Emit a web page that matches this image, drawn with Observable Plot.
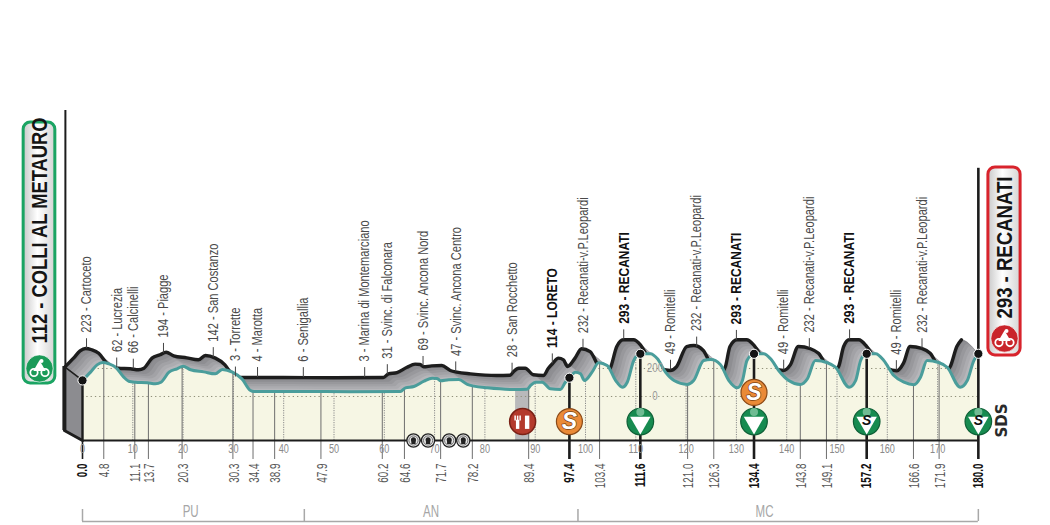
<!DOCTYPE html>
<html><head><meta charset="utf-8">
<style>html,body{margin:0;padding:0;background:#fff}svg{display:block}</style>
<script src="https://cdn.jsdelivr.net/npm/d3@7"></script>
<script src="https://cdn.jsdelivr.net/npm/@observablehq/plot@0.6"></script>
</head><body><div id="chart"></div>
<script>
// Road profile: position along the drawn axis (km) and altitude (m)
const profileKm = [0,1.6,2.9,4.0,5.2,6.6,8.2,9.2,10.5,12.9,14.5,15.6,17.2,18.8,20.0,21.5,24.1,26.4,27.8,29.8,31.7,33.4,34.1,43.3,53.3,63.2,64.2,65.9,67.9,69.5,70.5,71.2,72.8,74.8,76.5,77.8,80.5,85.7,88.4,89.1,90.1,91.4,93.0,95.0,96.0,96.8,98.0,99.0,99.8,101.3,102.6,104.3,106.0,107.3,108.3,109.6,110.9,112.9,114.3,115.9,117.6,120.2,121.5,123.5,124.9,126.8,128.5,130.2,131.2,132.1,133.5,135.4,136.8,138.4,140.4,142.7,144.1,145.7,148.1,149.7,152.4,153.7,154.7,155.8,157.7,159.3,161.3,163.3,165.3,166.6,167.9,170.2,171.9,174.5,175.9,177.2,178.1];
const profileM = [115,174,226,243,234,209,138,109,102,98,91,102,174,198,216,191,176,162,193,174,126,43,36,36,34,36,62,71,109,131,129,112,119,121,86,74,62,50,52,79,102,102,55,50,102,134,174,162,114,174,241,221,114,66,102,257,305,305,269,174,114,86,114,257,264,229,114,62,114,257,305,305,269,186,114,86,126,257,241,209,66,114,257,305,305,257,150,102,84,138,257,243,209,66,114,257,305];

// Labelled points along the route
const tickKm = [0,4.23,10.4,13.1,19.8,29.9,33.9,38.2,47.4,59.6,64.0,71.2,77.5,88.7,96.8,102.8,110.9,120.3,125.5,133.5,142.7,147.9,155.9,165.2,170.3,178.1];
const tickText = ["0.0","4.8","11.1","13.7","20.3","30.3","34.4","38.9","47.9","60.2","64.6","71.7","78.2","89.4","97.4","103.4","111.6","121.0","126.3","134.4","143.8","149.1","157.2","166.6","171.9","180.0"];
const boldTicks = ["0.0","97.4","111.6","134.4","157.2","180.0"];

const placeKm = [0.8,6.8,10.1,16.1,26.0,30.4,34.8,43.9,56.1,60.6,67.7,74.2,85.4,93.4,99.5,107.6,116.9,122.1,130.0,139.4,144.5,152.5,161.8,166.9];
const placeText = ["223 - Cartoceto","62 - Lucrezia","66 - Calcinelli","194 - Piagge","142 - San Costanzo","3 - Torrette","4 - Marotta","6 - Senigallia","3 - Marina di Montemarciano","31 - Svinc. di Falconara","69 - Svinc. Ancona Nord","47 - Svinc. Ancona Centro","28 - San Rocchetto","114 - LORETO","232 - Recanati-v.P.Leopardi","293 - RECANATI","49 - Romitelli","232 - Recanati-v.P.Leopardi","293 - RECANATI","49 - Romitelli","232 - Recanati-v.P.Leopardi","293 - RECANATI","49 - Romitelli","232 - Recanati-v.P.Leopardi"];
const boldPlaces = ["114 - LORETO","293 - RECANATI"];

const axisKm = [0,10,20,30,40,50,60,70,80,90,100,110,120,130,140,150,160,170];
const axisDotted = axisKm.slice(1);
const altLines = [0,200];
const regionText = ["PU","AN","MC"];
const regionBreaks = [0,44.1,98.5,178.1];
const regionLabelKm = [21.5,69.3,135.6];

// Race furniture: km position and altitude level of each symbol
const sprintKm = [96.8,133.5];
const sprintM = [-179,29];
const gpmKm = [110.9,133.5,155.9,178.1];
const gpmS = ["","","S","S"];
const dotKm = [0,96.8,110.9,133.5,155.9,178.1];
const dotM = [115,134,305,305,305,305];
const tunnelKm = [65.8,68.7,72.9,75.7];
const feedKm = [86.1,88.9], feedIconKm = 87.5;

const BASE = -314.3, SYMBOL = -179, TICK_END = -450;
const OX = -17, OY = -14;           // offset of the back edge of the 3-D profile
const SANS = "Liberation Sans";

const profile = profileKm.map((km,i)=>({km,m:profileM[i]}));
const altAt = km => {
  const i = d3.bisector(d=>d.km).right(profile,km);
  if (i<=0) return profile[0].m;
  if (i>=profile.length) return profile[profile.length-1].m;
  const a=profile[i-1], b=profile[i];
  return a.m+(b.m-a.m)*(km-a.km)/(b.km-a.km);
};
// 200 m dotted line only where the road stands above it
const above200 = [];
{ let start=null;
  for (let i=0;i<profile.length;i++){
    const p=profile[i], q=profile[i+1];
    if (p.m>=200 && start===null) start=p.km;
    if (q && (p.m>=200)!==(q.m>=200)){
      const c=p.km+(200-p.m)*(q.km-p.km)/(q.m-p.m);
      if (p.m>=200){above200.push([start,c]);start=null;} else start=c;
    }
  }
  if (start!==null) above200.push([start,178.1]);
}
// back-edge altitude under a place-name tick
const backKmShift = 3.38, BACK_M = 100, GAP = 71;
const places = placeKm.map((km,i)=>({km,text:placeText[i],base:altAt(km+backKmShift)+BACK_M,bold:boldPlaces.includes(placeText[i])}));
const ticks = tickKm.map((km,i)=>({km,text:tickText[i],bold:boldTicks.includes(tickText[i]),top:altAt(km)}));
const shades = ["#86868a","#8e8e92","#98989c","#a2a2a6","#acacb0","#b6b6ba"];
const grayLayers = shades.map((c,i)=>{
  const f = 1-i/shades.length;
  const data = profile.concat([{km:178.1+(-OX*f)/5.03,m:305-BACK_M*f}]);
  return Plot.areaY(data,{x:"km",y1:BASE,y2:"m",curve:"monotone-x",fill:c,dx:OX*f,dy:OY*f});
});

const sideFace = [{km:-3.6,t:214,b:-243},{km:0,t:115,b:BASE}];
const marks = [
  // start and finish posts
  Plot.ruleX([-3.4],{y1:214,y2:2043,stroke:"#1c1c1c",strokeWidth:2}),
  Plot.ruleX([178.1],{y1:305,y2:1630,stroke:"#1c1c1c",strokeWidth:2.6}),
  // back face
  ...grayLayers,
  Plot.line(profile,{x:"km",y:"m",curve:"monotone-x",stroke:"#1d1d1d",strokeWidth:3.4,dx:OX,dy:OY}),
  // left side face
  Plot.areaY(sideFace,{x:"km",y1:"t",y2:"b",fill:"#8c8c90"}),
  Plot.line(sideFace,{x:"km",y:"t",stroke:"#1d1d1d",strokeWidth:1.6}),
  Plot.line(sideFace,{x:"km",y:"b",stroke:"#1d1d1d",strokeWidth:3}),
  Plot.ruleX([-3.6],{y1:-243,y2:214,stroke:"#1d1d1d",strokeWidth:4}),
  // front face
  Plot.areaY(profile,{x:"km",y1:BASE,y2:"m",curve:"monotone-x",fill:"#f6f6e4"}),
  Plot.rect([feedKm],{x1:d=>d[0],x2:d=>d[1],y1:BASE,y2:d=>altAt(d[0]),fill:"#b9b9bb"}),
  // altitude lines and km gridlines
  Plot.ruleY([0],{x1:0,x2:178.1,stroke:"#8f8f78",strokeDasharray:"1.3,3",strokeWidth:1}),
  Plot.ruleY(above200,{y:()=>200,x1:d=>d[0],x2:d=>d[1],stroke:"#8f8f78",strokeDasharray:"1.3,3",strokeWidth:1}),
  Plot.ruleX(axisDotted,{y1:BASE,y2:altAt,stroke:"#8a8a8a",strokeDasharray:"1.2,1.2",strokeWidth:1}),
  Plot.ruleX(ticks.filter(d=>!d.bold),{x:"km",y1:TICK_END,y2:"top",stroke:"#6e6e6e",strokeWidth:1}),
  // road line
  Plot.line(profile,{x:"km",y:"m",curve:"monotone-x",stroke:"#4a9d9b",strokeWidth:3}),
  Plot.text(altLines,{x:113.8,y:d=>d,text:d=>String(d),fontFamily:SANS,fontSize:12.5,fill:"#9a9a9a",className:"alt"}),
  // baseline and bold km ticks
  Plot.ruleY([BASE],{x1:0,x2:178.1,stroke:"#1c1c1c",strokeWidth:2}),
  Plot.ruleX(ticks.filter(d=>d.bold&&d.km>0),{x:"km",y1:TICK_END,y2:"top",stroke:"#1c1c1c",strokeWidth:2.6}),
  Plot.ruleX([0],{y1:BASE,y2:115,stroke:"#1c1c1c",strokeWidth:2.4}),
  Plot.ruleX([0],{y1:TICK_END,y2:BASE,stroke:"#1c1c1c",strokeWidth:1.6}),
  // place names
  Plot.ruleX(places,{x:"km",y1:"base",y2:d=>d.base+GAP,stroke:"#444",strokeWidth:1}),
  Plot.text(places.filter(d=>!d.bold),{x:"km",y:d=>d.base+GAP,text:"text",rotate:-90,textAnchor:"start",lineAnchor:"middle",dy:-6,fontFamily:SANS,fontSize:15,fill:"#4a4a4a",className:"name"}),
  Plot.text(places.filter(d=>d.bold),{x:"km",y:d=>d.base+GAP,text:"text",rotate:-90,textAnchor:"start",lineAnchor:"middle",dy:-6,fontFamily:SANS,fontWeight:"bold",fontSize:15,fill:"#111",className:"nameb"}),
  // km numbers
  Plot.text(axisKm,{x:d=>d,y:BASE,text:d=>String(d),dy:9,fontFamily:SANS,fontSize:12,fill:"#8a8a8a",className:"axis"}),
  Plot.text(ticks.filter(d=>!d.bold),{x:"km",y:BASE,text:"text",rotate:-90,textAnchor:"end",lineAnchor:"middle",dy:23,dx:1,fontFamily:SANS,fontSize:14.5,fill:"#555",className:"km"}),
  Plot.text(ticks.filter(d=>d.bold),{x:"km",y:BASE,text:"text",rotate:-90,textAnchor:"end",lineAnchor:"middle",dy:23,fontFamily:SANS,fontWeight:"bold",fontSize:14.5,fill:"#111",className:"km"}),
  // regions
  Plot.ruleY([-893],{x1:0,x2:178.1,stroke:"#a8a8a8",strokeWidth:1.5}),
  Plot.ruleX(regionBreaks,{y1:-893,y2:-807,stroke:"#a8a8a8",strokeWidth:1.5}),
  Plot.text(regionText,{x:(d,i)=>regionLabelKm[i],y:-821,text:d=>d,fontFamily:SANS,fontSize:16,fill:"#a6a6a6",className:"region"}),
  // tunnels
  Plot.dot(tunnelKm,{x:d=>d,y:BASE,r:6.6,fill:"#e6e6e6",stroke:"#222",strokeWidth:1.3}),
  Plot.dot(tunnelKm,{x:d=>d,y:BASE,r:4.6,fill:"none",stroke:"#555",strokeWidth:.8}),
  Plot.dot(tunnelKm,{x:d=>d,y:BASE,r:2.5,dy:-.8,fill:"#222"}),
  Plot.dot(tunnelKm,{x:d=>d,y:BASE,r:2.4,dy:1.4,symbol:"square",fill:"#222"}),
  // feed zone
  Plot.dot([feedIconKm],{x:d=>d,y:SYMBOL,r:13,fill:"#b43a2c",stroke:"#7a2116",strokeWidth:1.5}),
  ...[-7.5,-5,-2.5].map(dx=>Plot.ruleX([feedIconKm],{y1:-140,y2:-175,dx,stroke:"#fff",strokeWidth:1.5})),
  Plot.ruleX([feedIconKm],{y1:-170,y2:-235,dx:-5,stroke:"#fff",strokeWidth:3.4}),
  Plot.ruleX([feedIconKm],{y1:-140,y2:-235,dx:4.5,stroke:"#fff",strokeWidth:4.4}),
  // green symbols
  Plot.dot(gpmKm,{x:d=>d,y:SYMBOL,r:13.3,fill:"#178b50",stroke:"#0e5f36",strokeWidth:1.2}),
  Plot.dot(gpmKm,{x:d=>d,y:SYMBOL,r:4,dy:-9.5,fill:"#6fbb93"}),
  Plot.dot(gpmKm,{x:d=>d,y:SYMBOL,r:7.6,dy:1,symbol:"triangle",rotate:180,fill:"#fff"}),
  Plot.text(gpmKm.filter((d,i)=>gpmS[i]),{x:d=>d,y:SYMBOL,text:d=>gpmS[gpmKm.indexOf(d)],dy:-1,fontFamily:SANS,fontStyle:"italic",fontWeight:"bold",fontSize:14,fill:"#111"}),
  // orange sprint symbols
  Plot.dot(sprintKm,{x:d=>d,y:(d,i)=>sprintM[i],r:13,fill:"#ea8a37",stroke:"#8a4a18",strokeWidth:1.2}),
  Plot.text(sprintKm,{x:d=>d,y:(d,i)=>sprintM[i],text:()=>"S",fontFamily:SANS,fontStyle:"italic",fontWeight:"bold",fontSize:23,fill:"#fff",stroke:"#7a4215",strokeWidth:1.4,paintOrder:"stroke"}),
  // checkpoint dots
  Plot.dot(dotKm,{x:d=>d,y:(d,i)=>dotM[i],r:4.6,fill:"#141414",stroke:"#fff",strokeWidth:1}),
  // start badge
  Plot.rect([0],{x1:-11.7,x2:-5.4,y1:93,y2:1957,rx:7,ry:7,fill:"url(#badge)",stroke:"#1ba463",strokeWidth:3}),
  Plot.text(["112 - COLLI AL METAURO"],{x:-8.55,y:379,text:d=>d,rotate:-90,textAnchor:"start",lineAnchor:"middle",fontFamily:SANS,fontWeight:"bold",fontSize:22,fill:"#151515",className:"start"}),
  // finish badge
  Plot.rect([0],{x1:180.1,x2:186.5,y1:293,y2:1636,rx:7,ry:7,fill:"url(#badge)",stroke:"#d8232c",strokeWidth:3}),
  Plot.text(["293 - RECANATI"],{x:183.3,y:557,text:d=>d,rotate:-90,textAnchor:"start",lineAnchor:"middle",fontFamily:SANS,fontWeight:"bold",fontSize:22,fill:"#151515",className:"finish"}),
  // bike medallions
  ...[[-8.55,200,"#1a9a58"],[183.3,414,"#c9242b"]].flatMap(([k,m,c])=>[
    Plot.dot([k],{x:d=>d,y:m,r:13.6,fill:c,stroke:"#fff",strokeWidth:.6}),
    Plot.dot([k],{x:d=>d,y:m,r:3.7,dx:-5.5,dy:4,fill:"none",stroke:"#fff",strokeWidth:1.8}),
    Plot.dot([k],{x:d=>d,y:m,r:3.7,dx:5.5,dy:4,fill:"none",stroke:"#fff",strokeWidth:1.8}),
    Plot.dot([k],{x:d=>d,y:m,r:4.6,dy:-1,symbol:"triangle",fill:"#fff"}),
    Plot.dot([k],{x:d=>d,y:m,r:2,dx:2,dy:-7.5,fill:"#fff"})
  ]),
  // sponsor mark
  Plot.text(["SDS"],{x:182.9,y:-171,text:d=>d,rotate:-90,fontFamily:"DejaVu Sans",fontWeight:"bold",fontSize:15,fill:"#2a2a2a"})
];

const chart = Plot.plot({
  width:1050,height:525,marginLeft:82,marginRight:72,marginTop:100,marginBottom:85,
  x:{domain:[0,178.13],axis:null},
  y:{domain:[BASE,2114.3],axis:null},
  style:{background:"#fff",overflow:"visible"},
  marks
});
document.getElementById("chart").append(chart);
d3.select(chart).insert("defs",":first-child").html(
 '<linearGradient id="badge" x1="0" x2="1" y1="0" y2="0"><stop offset="0" stop-color="#c9c9c9"/><stop offset=".45" stop-color="#fff"/><stop offset="1" stop-color="#d4d4d4"/></linearGradient>');
// the reference lettering is strongly condensed: no narrow face is installed, so squeeze the glyphs
const squeeze = (sel,f)=>d3.select(chart).selectAll(sel).each(function(){
  this.setAttribute("textLength",f>5?f:this.getComputedTextLength()*f);
  this.setAttribute("lengthAdjust","spacingAndGlyphs");
});
squeeze(".name text",0.74);
squeeze(".nameb text",0.8);
squeeze(".km text",0.68);
squeeze(".axis text",0.76);
squeeze(".alt text",0.78);
squeeze(".region text",0.72);
squeeze(".start text",226);
squeeze(".finish text",142);
</script>
</body></html>
